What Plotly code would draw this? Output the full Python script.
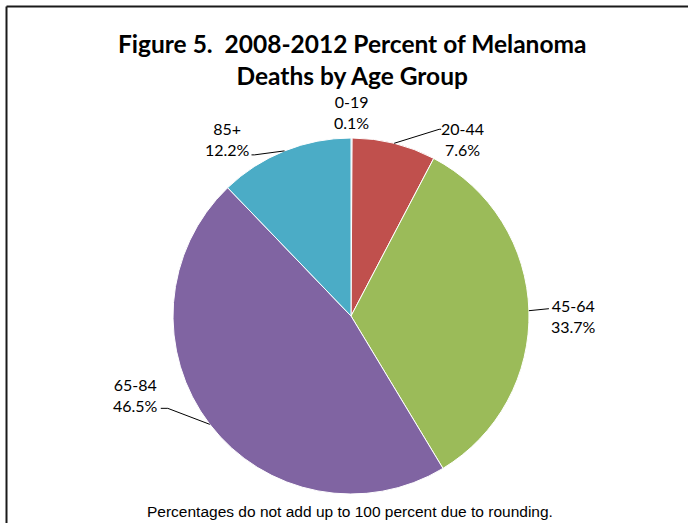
import math
import plotly.graph_objects as go

# ---- data ----
age_groups = ["0-19", "20-44", "45-64", "65-84", "85+"]
percents = [0.1, 7.6, 33.7, 46.5, 12.2]
colors = ["#4F81BD", "#C0504D", "#9BBB59", "#8064A2", "#4BACC6"]
title_lines = ["Figure 5.\u00a0 2008-2012 Percent of Melanoma", "Deaths by Age Group"]
footnote = "Percentages do not add up to 100 percent due to rounding."

W, H = 688, 523
CX, CY, R = 351, 316, 178  # pie centre / radius in pixels (layout)

def px(x):
    return x / W

def py(y):
    return 1 - y / H

fig = go.Figure()
fig.add_trace(go.Pie(
    labels=age_groups,
    values=percents,
    sort=False,
    direction="clockwise",
    rotation=0,
    textinfo="none",
    hoverinfo="label+percent",
    marker=dict(colors=colors, line=dict(color="white", width=1)),
    domain=dict(x=[px(CX - R), px(CX + R)], y=[py(CY + R), py(CY - R)]),
    showlegend=False,
))

# label placement (style): offset of label centre from slice edge point, and leader elbow offsets
label_style = {
    "0-19":  dict(label=(0, -26), leader=None),
    "20-44": dict(label=(68, -4), leader=[(45, -14), (47, -14)]),
    "45-64": dict(label=(45, 5), leader=[(20, -2)]),
    "65-84": dict(label=(-74, -29), leader=[(-42, -16), (-49, -16)]),
    "85+":   dict(label=(-57, -12), leader=[(-30, 4), (-33, 4)]),
}

total = sum(percents)
cum = 0.0
annotations = []
shapes = []
for name, v in zip(age_groups, percents):
    mid = (cum + v / 2) / total * 2 * math.pi
    cum += v
    ex = CX + R * math.sin(mid)
    ey = CY - R * math.cos(mid)
    st = label_style[name]
    lx, ly = ex + st["label"][0], ey + st["label"][1]
    annotations.append(dict(
        x=px(lx), y=py(ly), xref="paper", yref="paper",
        text=f"{name}<br>{v:.1f}%", showarrow=False,
        xanchor="center", yanchor="middle", align="center",
        font=dict(family="Lato", size=16, color="#000000"),
    ))
    if st["leader"]:
        pts = [(ex, ey)] + [(ex + dx, ey + dy) for dx, dy in st["leader"]]
        path = "M " + " L ".join(f"{px(a)},{py(b)}" for a, b in pts)
        shapes.append(dict(type="path", xref="paper", yref="paper", path=path,
                           line=dict(color="#000000", width=1)))

annotations.append(dict(
    x=px(352), y=py(59), xref="paper", yref="paper",
    text="<b>" + "<br>".join(title_lines) + "</b>", showarrow=False,
    xanchor="center", yanchor="middle", align="center",
    font=dict(family="Lato", size=24.5, color="#000000"),
))
annotations.append(dict(
    x=px(350), y=py(511), xref="paper", yref="paper",
    text=footnote, showarrow=False, xanchor="center", yanchor="middle",
    font=dict(family="Liberation Sans", size=15.5, color="#000000"),
))

# outer frame (top and left edges visible)
shapes.append(dict(type="line", xref="paper", yref="paper", x0=px(6.5), y0=py(6.5), x1=1.01, y1=py(6.5),
                   line=dict(color="#1a1a1a", width=2)))
shapes.append(dict(type="line", xref="paper", yref="paper", x0=px(6.5), y0=py(6.5), x1=px(6.5), y1=-0.01,
                   line=dict(color="#1a1a1a", width=2)))

fig.update_layout(
    width=W, height=H,
    margin=dict(l=0, r=0, t=0, b=0),
    paper_bgcolor="white", plot_bgcolor="white",
    annotations=annotations, shapes=shapes,
)

fig.write_html("out.html")
